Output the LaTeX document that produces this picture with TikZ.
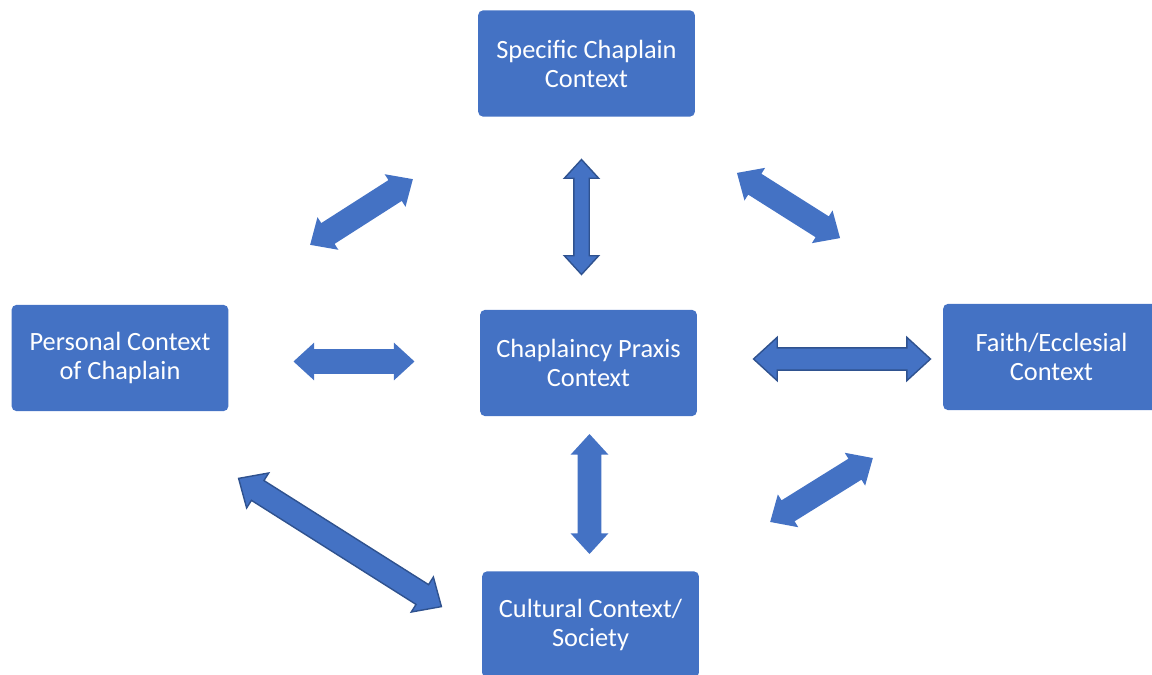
\documentclass[tikz,border=0pt]{standalone}
\usepackage{fontspec}
\setmainfont{Carlito}
\usetikzlibrary{shapes.arrows}
\definecolor{boxblue}{HTML}{4472C4}
\definecolor{edgeblue}{HTML}{2F528F}

\tikzset{
  ctxbox/.style={rectangle, rounded corners=3pt, fill=boxblue, draw=none,
    text=white, align=center, minimum width=4.34cm, minimum height=2.13cm,
    font=\fontsize{15}{16.5}\selectfont},
  dblarrow/.style={double arrow, fill=boxblue, draw=none, inner xsep=0pt,
    double arrow tip angle=85, double arrow head indent=0pt},
  outlined/.style={draw=edgeblue, line width=0.8pt}
}

\begin{document}
\begin{tikzpicture}[x=0.02cm, y=-0.02cm]
  \useasboundingbox (0,0) rectangle (1152,675);
  \clip (0,0) rectangle (1152,675);

  % context boxes
  \node[ctxbox] (specific) at (586.5,63.5) {Specific Chaplain\\Context};
  \node[ctxbox] (praxis) at (588.5,363) {Chaplaincy Praxis\\Context};
  \node[ctxbox] (personal) at (120,358) {Personal Context\\of Chaplain};
  \node[ctxbox] (faith) at (1051.5,357) {Faith/Ecclesial\\Context};
  \node[ctxbox] (cultural) at (590.5,624.5) {Cultural Context/\\Society};

  % block arrows
  \node[dblarrow, outlined, rotate=90, minimum height=2.3cm, inner ysep=0.14cm,
    double arrow head extend=0.19cm] (arrSpecific) at (581.5,217) {};
  \node[dblarrow, minimum height=2.42cm, inner ysep=0.24cm,
    double arrow head extend=0.13cm] (arrPersonal) at (354,361.5) {};
  \node[dblarrow, outlined, minimum height=3.54cm, inner ysep=0.21cm,
    double arrow head extend=0.21cm] (arrFaith) at (842,359) {};
  \node[dblarrow, rotate=90, minimum height=2.4cm, inner ysep=0.23cm,
    double arrow head extend=0.14cm] (arrCultural) at (589.5,494) {};
  \node[dblarrow, rotate=32.6, minimum height=2.44cm, inner ysep=0.24cm,
    double arrow head extend=0.14cm] (arrUL) at (361.5,212) {};
  \node[dblarrow, rotate=-32.3, minimum height=2.44cm, inner ysep=0.24cm,
    double arrow head extend=0.14cm] (arrUR) at (788.5,205.5) {};
  \node[dblarrow, rotate=31.9, minimum height=2.42cm, inner ysep=0.24cm,
    double arrow head extend=0.14cm] (arrLR) at (821.5,490) {};
  \node[dblarrow, outlined, rotate=-32.3, minimum height=4.8cm, inner ysep=0.22cm,
    double arrow head extend=0.18cm] (arrLL) at (340,542.5) {};
\end{tikzpicture}
\end{document}
